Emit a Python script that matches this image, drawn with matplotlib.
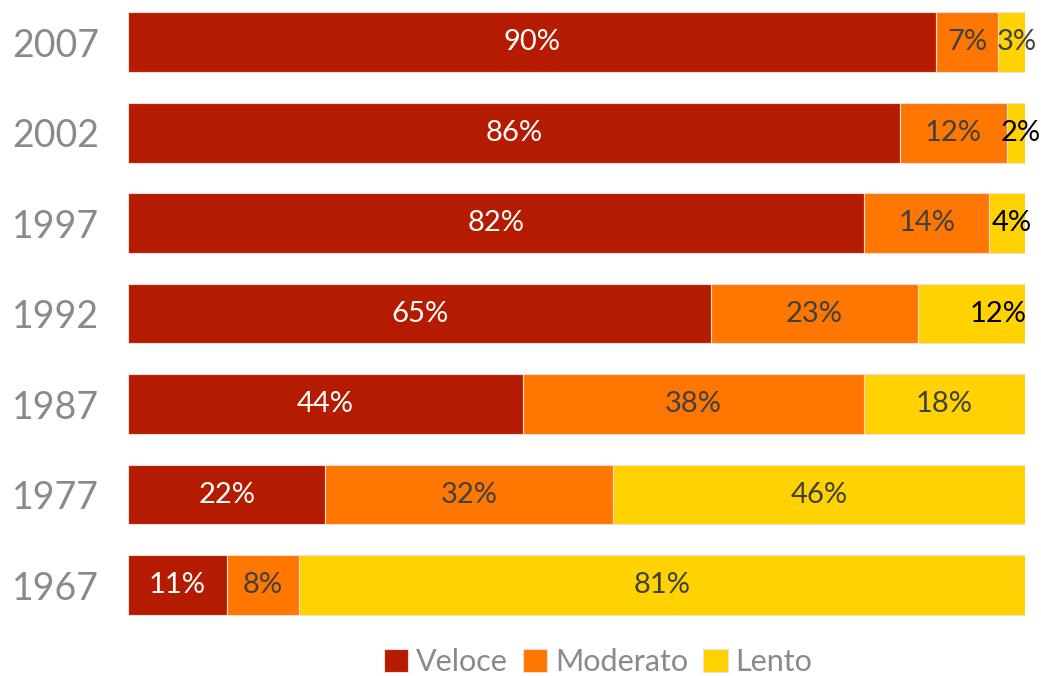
import matplotlib.pyplot as plt
import numpy as np

years = ['1967', '1977', '1987', '1992', '1997', '2002', '2007']
veloce = [11, 22, 44, 65, 82, 86, 90]
moderato = [8, 32, 38, 23, 14, 12, 7]
lento = [81, 46, 18, 12, 4, 2, 3]

series = ['Veloce', 'Moderato', 'Lento']
colors = ['#B51B00', '#FF7700', '#FFD200']

plt.rcParams['font.family'] = ['Lato', 'DejaVu Sans']

fig = plt.figure(figsize=(10.41, 6.76), dpi=100)
ax = fig.add_axes([0.123, 0.0607, 0.862, 0.936])

y = np.arange(len(years))
data = [veloce, moderato, lento]
left = np.zeros(len(years))
for vals, name, col in zip(data, series, colors):
    vals = np.array(vals)
    ax.barh(y, vals, left=left, height=0.66, color=col, label=name,
            edgecolor='#f3ddd5', linewidth=0.8)
    for i, v in enumerate(vals):
        cx = left[i] + v / 2
        if name == 'Veloce':
            tc = 'white'
        elif name == 'Lento' and v <= 12 and years[i] != '2007':
            tc = 'black'
        else:
            tc = '#404040'
        if name == 'Lento' and v <= 4:
            cx = left[i] + v / 2 + 0.5
        if name == 'Lento' and years[i] == '1992':
            cx = 97
        ax.text(cx, i, f'{v}%', ha='center', va='center', color=tc, fontsize=21)
    left += vals

ax.set_xlim(0, 100)
ax.set_ylim(-0.552, 6.442)
ax.set_yticks(y)
ax.set_yticklabels(years, fontsize=27, color='#8a8a8a')
ax.tick_params(axis='y', length=0, pad=21)
ax.set_xticks([])
for s in ax.spines.values():
    s.set_visible(False)

fig.legend(loc='center', bbox_to_anchor=(598 / 1041, 1 - 662 / 676), ncol=3,
           frameon=False, fontsize=22, handlelength=0.8, handleheight=0.8,
           handletextpad=0.25, columnspacing=0.5, labelcolor='#8a8a8a')

fig.savefig('out.png', dpi=100)
